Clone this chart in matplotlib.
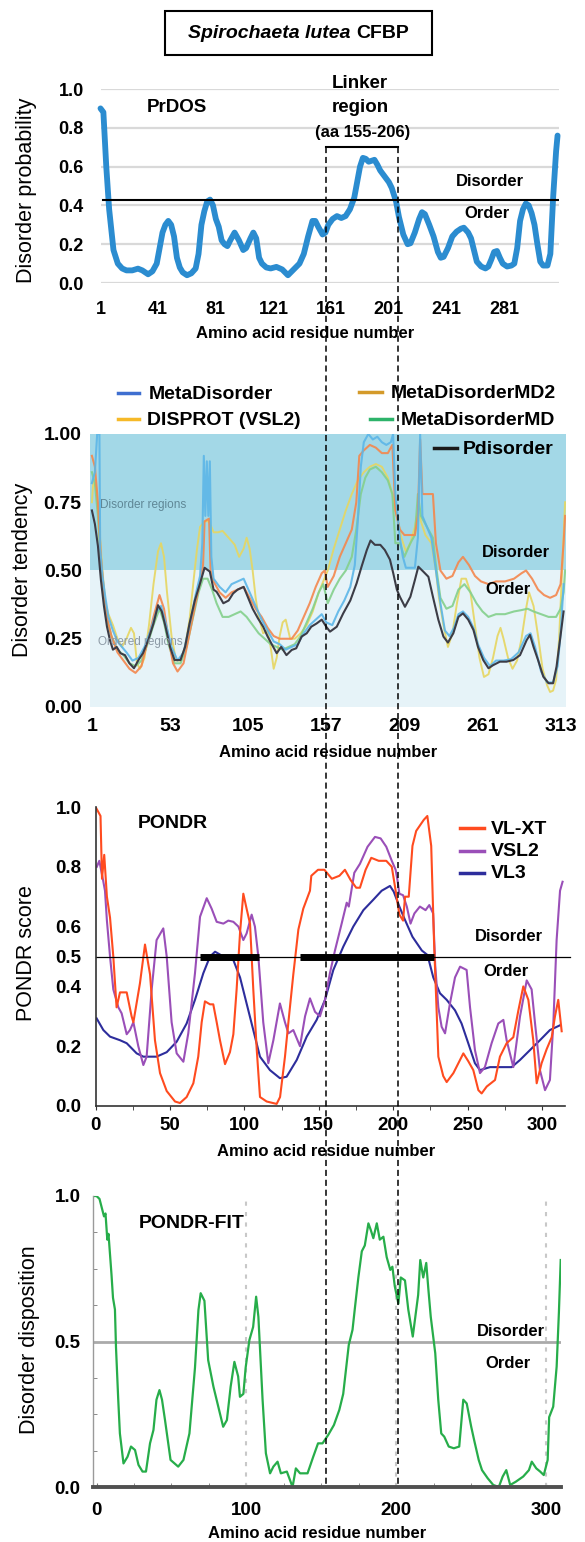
import numpy as np
import matplotlib
matplotlib.use('Agg')
import matplotlib.pyplot as plt
from matplotlib.lines import Line2D
from matplotlib.patches import Rectangle
from matplotlib.ticker import MultipleLocator

# ---------------------------------------------------------------
# data (residue, score)
# ---------------------------------------------------------------
# PrDOS
prdos_res = [1, 3, 5, 7, 10, 13, 16, 19, 23, 27, 30, 34, 37, 40, 42, 44, 46, 48, 50, 52,
             54, 56, 58, 61, 64, 67, 69, 71, 73, 75, 77, 79, 81, 83, 85, 87, 89, 91, 94, 97,
             100, 102, 105, 107, 109, 111, 113, 116, 119, 123, 127, 131, 135, 139, 142, 145,
             148, 150, 152, 155, 157, 159, 162, 165, 168, 171, 174, 177, 179, 181, 183, 185,
             187, 189, 191, 193, 195, 198, 201, 203, 206, 208, 211, 214, 216, 219, 222, 224,
             226, 229, 232, 235, 237, 239, 242, 245, 248, 251, 253, 256, 258, 260, 262, 265,
             268, 270, 272, 274, 276, 278, 280, 283, 286, 288, 290, 292, 294, 296, 298, 300,
             302, 304, 306, 308, 311, 313, 315, 317, 318]
prdos_val = [0.90, 0.88, 0.60, 0.38, 0.17, 0.10, 0.075, 0.065, 0.065, 0.074, 0.065, 0.045,
             0.06, 0.10, 0.18, 0.26, 0.30, 0.32, 0.30, 0.24, 0.13, 0.08, 0.055, 0.04, 0.05,
             0.075, 0.15, 0.30, 0.37, 0.42, 0.43, 0.40, 0.33, 0.29, 0.22, 0.20, 0.19, 0.22,
             0.26, 0.22, 0.17, 0.18, 0.23, 0.26, 0.23, 0.13, 0.10, 0.08, 0.075, 0.083, 0.07,
             0.04, 0.07, 0.10, 0.15, 0.24, 0.32, 0.32, 0.29, 0.25, 0.26, 0.30, 0.33, 0.345,
             0.335, 0.345, 0.38, 0.44, 0.52, 0.60, 0.645, 0.64, 0.625, 0.63, 0.635, 0.61,
             0.58, 0.55, 0.52, 0.49, 0.42, 0.34, 0.25, 0.20, 0.205, 0.26, 0.33, 0.365, 0.355,
             0.30, 0.24, 0.16, 0.13, 0.135, 0.18, 0.24, 0.265, 0.28, 0.285, 0.26, 0.23, 0.17,
             0.11, 0.085, 0.075, 0.085, 0.12, 0.16, 0.165, 0.13, 0.10, 0.085, 0.09, 0.10,
             0.18, 0.32, 0.38, 0.41, 0.40, 0.36, 0.30, 0.20, 0.11, 0.09, 0.09, 0.15, 0.45,
             0.68, 0.76]
prdos_ticks = [1, 41, 81, 121, 161, 201, 241, 281]
prdos_cut = 0.43

# MetaDisorder server panel
meta_ticks = [1, 53, 105, 157, 209, 261, 313]
md_res = [1, 3, 4.5, 6, 6.5, 8, 10, 12, 15, 18, 21, 24, 28, 32, 36, 40, 44, 47, 50, 54, 58,
          62, 66, 70, 73, 74.5, 75.5, 76.5, 77.5, 78.5, 79.5, 80.5, 82, 86, 90, 94, 98, 102,
          106, 110, 114, 118, 122, 126, 130, 134, 138, 142, 146, 150, 154, 157, 161, 165,
          169, 173, 176, 178, 180, 182, 185, 188, 191, 194, 197, 200, 201.5, 203, 206, 208,
          210, 214, 216, 218, 219.5, 221, 224, 227, 230, 233, 236, 239, 242, 245, 248, 251.5,
          255, 258, 262, 266, 270, 275, 280, 285, 290, 293, 296, 300, 304, 308, 311, 313, 315]
md_val = [0.82, 0.86, 1.0, 1.0, 0.58, 0.48, 0.40, 0.33, 0.28, 0.24, 0.22, 0.20, 0.17, 0.18,
          0.22, 0.28, 0.35, 0.37, 0.31, 0.22, 0.17, 0.20, 0.30, 0.41, 0.48, 0.60, 0.92, 0.70,
          0.90, 0.70, 0.90, 0.55, 0.47, 0.44, 0.42, 0.45, 0.46, 0.47, 0.42, 0.37, 0.32, 0.28,
          0.24, 0.23, 0.21, 0.22, 0.23, 0.27, 0.30, 0.32, 0.34, 0.31, 0.30, 0.35, 0.39, 0.44,
          0.52, 0.68, 0.88, 0.97, 1.0, 0.98, 0.99, 0.97, 0.96, 0.97, 1.0, 0.78, 0.62, 0.55,
          0.51, 0.51, 0.51, 0.62, 1.0, 0.70, 0.66, 0.62, 0.50, 0.38, 0.28, 0.26, 0.29, 0.34,
          0.35, 0.33, 0.29, 0.23, 0.18, 0.15, 0.17, 0.17, 0.175, 0.20, 0.26, 0.27, 0.22, 0.13,
          0.09, 0.09, 0.15, 0.27, 0.45]
md2_res = [1, 3, 5, 7, 9, 11, 14, 18, 22, 26, 30, 34, 38, 42, 46, 49, 52, 55, 58, 62, 66,
           70, 73, 75, 76, 79, 80, 82, 86, 90, 94, 98, 102, 106, 110, 114, 118, 122, 126, 130,
           134, 138, 142, 146, 150, 154, 156, 158, 162, 166, 170, 174, 177, 179, 182, 186,
           190, 194, 198, 201, 203, 206, 209, 213, 216, 218, 219.5, 221, 225, 228, 230, 233,
           237, 241, 245, 248, 252, 256, 260, 265, 270, 276, 282, 287, 290, 294, 298, 302,
           306, 310, 313, 315, 316]
md2_val = [0.92, 0.88, 0.75, 0.55, 0.42, 0.33, 0.26, 0.20, 0.17, 0.14, 0.125, 0.15, 0.24,
           0.33, 0.41, 0.36, 0.25, 0.16, 0.13, 0.16, 0.27, 0.38, 0.46, 0.52, 0.68, 0.69, 0.50,
           0.46, 0.42, 0.40, 0.42, 0.43, 0.44, 0.40, 0.36, 0.33, 0.29, 0.26, 0.25, 0.25, 0.25,
           0.28, 0.33, 0.38, 0.44, 0.49, 0.50, 0.44, 0.48, 0.55, 0.60, 0.65, 0.75, 0.92, 0.94,
           0.96, 0.95, 0.93, 0.93, 0.96, 0.72, 0.65, 0.63, 0.63, 0.63, 0.70, 0.98, 0.78, 0.78,
           0.78, 0.60, 0.50, 0.47, 0.48, 0.53, 0.55, 0.52, 0.48, 0.46, 0.45, 0.46, 0.46, 0.47,
           0.49, 0.50, 0.47, 0.43, 0.41, 0.40, 0.41, 0.45, 0.60, 0.70]
vsl2d_res = [1, 2, 4, 6, 8, 10, 12, 15, 18, 21, 24, 27, 29, 31, 33, 36, 39, 42, 45, 47, 49,
             51, 54, 57, 60, 63, 66, 69, 71, 73, 76, 79, 82, 85, 88, 92, 96, 99, 102, 104, 106,
             108, 110, 112, 115, 118, 120, 122, 124, 126, 128, 130, 133, 136, 140, 144, 148,
             152, 155, 158, 162, 166, 170, 174, 178, 182, 186, 190, 194, 198, 201, 204, 207,
             210, 213, 216, 218, 220, 223, 227, 230, 232, 235, 238, 241, 244, 247, 250, 253,
             256, 259, 262, 265, 268, 271, 273, 275, 278, 281, 284, 287, 290, 292, 295, 298,
             301, 304, 306, 308, 310, 312, 314, 316]
vsl2d_val = [0.75, 0.83, 0.80, 0.65, 0.50, 0.38, 0.34, 0.30, 0.25, 0.22, 0.25, 0.29, 0.27,
             0.16, 0.14, 0.18, 0.30, 0.45, 0.57, 0.60, 0.55, 0.42, 0.26, 0.17, 0.17, 0.22,
             0.32, 0.48, 0.58, 0.66, 0.68, 0.68, 0.64, 0.64, 0.645, 0.62, 0.595, 0.55, 0.58,
             0.62, 0.58, 0.50, 0.40, 0.33, 0.27, 0.28, 0.22, 0.14, 0.18, 0.26, 0.31, 0.32,
             0.25, 0.25, 0.27, 0.30, 0.35, 0.42, 0.46, 0.50, 0.58, 0.65, 0.72, 0.78, 0.83,
             0.86, 0.88, 0.89, 0.88, 0.84, 0.78, 0.70, 0.62, 0.57, 0.60, 0.66, 0.72, 0.68,
             0.63, 0.60, 0.50, 0.40, 0.30, 0.22, 0.27, 0.38, 0.47, 0.47, 0.42, 0.30, 0.18,
             0.11, 0.12, 0.18, 0.26, 0.29, 0.25, 0.18, 0.14, 0.17, 0.25, 0.36, 0.42, 0.37,
             0.26, 0.14, 0.08, 0.055, 0.06, 0.10, 0.25, 0.50, 0.75]
mdmd_res = [1, 3, 5, 7, 9, 11, 14, 18, 22, 26, 30, 34, 38, 42, 46, 49, 52, 56, 60, 64, 68,
            72, 75, 78, 81, 84, 88, 92, 96, 100, 104, 108, 112, 116, 120, 124, 128, 132, 136,
            140, 144, 148, 152, 155, 158, 162, 166, 170, 174, 177, 180, 183, 186, 190, 194,
            198, 201, 203, 206, 209, 213, 216, 218, 220, 224, 228, 230, 233, 237, 241, 245,
            249, 253, 257, 261, 265, 270, 276, 282, 287, 291, 295, 300, 305, 310, 313, 315, 316]
mdmd_val = [0.86, 0.82, 0.70, 0.52, 0.40, 0.32, 0.26, 0.21, 0.19, 0.16, 0.15, 0.17, 0.23,
            0.30, 0.36, 0.31, 0.23, 0.16, 0.16, 0.22, 0.32, 0.42, 0.47, 0.47, 0.43, 0.38,
            0.33, 0.33, 0.34, 0.35, 0.33, 0.30, 0.27, 0.25, 0.23, 0.22, 0.21, 0.22, 0.23,
            0.26, 0.31, 0.36, 0.42, 0.45, 0.38, 0.43, 0.47, 0.50, 0.55, 0.65, 0.78, 0.84,
            0.87, 0.88, 0.86, 0.83, 0.78, 0.60, 0.60, 0.55, 0.60, 0.63, 0.78, 0.70, 0.66,
            0.62, 0.52, 0.40, 0.36, 0.37, 0.43, 0.45, 0.42, 0.38, 0.35, 0.33, 0.34, 0.34,
            0.35, 0.355, 0.36, 0.35, 0.34, 0.33, 0.33, 0.36, 0.42, 0.50]
pdis_res = [1, 3, 5, 7, 9, 11, 13, 15, 17.5, 20, 23, 26, 29, 32, 35, 38.5, 42, 45, 47.5, 50,
            53, 56, 60, 63, 66, 69.5, 73, 76, 79.5, 82, 84, 86, 88.5, 92, 95, 98, 102, 104.7,
            108, 111.5, 115, 118, 121.7, 124, 127, 130.5, 134, 137, 140.6, 144, 147, 150.6,
            154, 157, 159.5, 164, 168.3, 173, 177.2, 180.5, 184, 186.5, 189.4, 193, 196,
            199.4, 201.6, 204, 206, 209.4, 213, 216, 218.3, 221.6, 225, 228, 231.6, 235, 238,
            241.6, 245, 248, 251.5, 255, 258, 261.5, 265, 268, 272.6, 277, 281.5, 286, 290.4,
            292.6, 295, 298, 301.5, 305, 308, 310.3, 312.6, 315]
pdis_val = [0.72, 0.67, 0.59, 0.465, 0.37, 0.295, 0.245, 0.21, 0.22, 0.197, 0.19, 0.16,
            0.142, 0.172, 0.197, 0.245, 0.306, 0.373, 0.35, 0.294, 0.22, 0.172, 0.172, 0.22,
            0.306, 0.39, 0.453, 0.51, 0.496, 0.43, 0.422, 0.404, 0.38, 0.39, 0.416, 0.43,
            0.44, 0.404, 0.36, 0.325, 0.294, 0.258, 0.22, 0.197, 0.22, 0.19, 0.209, 0.215,
            0.258, 0.27, 0.294, 0.306, 0.32, 0.294, 0.276, 0.294, 0.343, 0.39, 0.453, 0.514,
            0.575, 0.61, 0.594, 0.594, 0.575, 0.54, 0.49, 0.43, 0.404, 0.367, 0.404, 0.465,
            0.514, 0.496, 0.477, 0.404, 0.32, 0.258, 0.236, 0.27, 0.33, 0.343, 0.32, 0.282,
            0.22, 0.172, 0.142, 0.153, 0.166, 0.166, 0.172, 0.19, 0.245, 0.264, 0.22, 0.172,
            0.111, 0.087, 0.087, 0.148, 0.245, 0.35]

# PONDR
vlxt_res = [0, 3.3, 4.3, 5.8, 7.6, 9.7, 11.9, 14.1, 16.4, 20.9, 24.2, 25.4, 29.8, 33.2, 36.6,
            39.9, 43.3, 47.8, 53.4, 56.7, 61.2, 65.7, 69, 71.3, 73.5, 76.9, 79.1, 81.4, 83.6,
            87, 90.3, 92.6, 94.8, 97.1, 99.3, 101.5, 103.8, 106, 108.3, 110.5, 115, 121.7, 124,
            127.3, 129.6, 132.9, 136.3, 139.6, 144.1, 145, 149.5, 153.8, 158.8, 163.9, 167.6,
            171.4, 175.2, 177.7, 181.5, 185.3, 190.3, 195.4, 199.1, 201.7, 204.2, 206.7, 208,
            210.5, 213, 215.5, 220.6, 223, 225.6, 227.5, 229, 230.4, 233.7, 236, 240.5, 247.2,
            250.5, 253.9, 257.3, 259.5, 262.9, 268.5, 271.8, 276.3, 280.8, 284.2, 287.5, 290.9,
            294.2, 296.5, 299.8, 303.2, 306.6, 308.8, 311, 312.2, 313.3]
vlxt_val = [1.0, 0.97, 0.76, 0.84, 0.70, 0.63, 0.50, 0.33, 0.38, 0.38, 0.30, 0.28, 0.41, 0.54,
            0.44, 0.22, 0.11, 0.05, 0.015, 0.01, 0.03, 0.076, 0.165, 0.28, 0.35, 0.34, 0.34,
            0.28, 0.22, 0.14, 0.18, 0.24, 0.39, 0.58, 0.71, 0.66, 0.61, 0.39, 0.19, 0.03,
            0.015, 0.007, 0.03, 0.165, 0.28, 0.44, 0.59, 0.66, 0.72, 0.77, 0.79, 0.79, 0.76,
            0.77, 0.79, 0.756, 0.73, 0.73, 0.79, 0.83, 0.82, 0.82, 0.80, 0.72, 0.64, 0.62,
            0.70, 0.70, 0.87, 0.92, 0.957, 0.97, 0.87, 0.55, 0.35, 0.165, 0.10, 0.08, 0.11,
            0.176, 0.15, 0.12, 0.053, 0.042, 0.065, 0.087, 0.165, 0.21, 0.23, 0.32, 0.40,
            0.355, 0.22, 0.076, 0.143, 0.19, 0.23, 0.30, 0.355, 0.30, 0.25]
vsl2_res = [0.8, 2.5, 5, 6.3, 7.6, 9.7, 11.9, 15.3, 17.5, 20.9, 23.1, 25.4, 28.7, 32.1, 34.3,
            37.7, 41, 45.5, 47.8, 51.1, 54.5, 59, 62.3, 66.8, 70.2, 74.7, 78, 81.4, 85.9, 89.2,
            92.6, 96, 99.3, 101.5, 104.9, 107.1, 109.4, 112.7, 116.1, 119.5, 123.9, 127.3,
            129.6, 132.9, 137.4, 140.8, 144.1, 147.5, 150.8, 154.2, 157.5, 160.9, 165.4,
            168.8, 170.2, 173.9, 177.7, 182.8, 187.8, 191.6, 195.4, 199.1, 201.7, 202.9, 204.2,
            206.7, 209.2, 211.7, 214.3, 218, 221.8, 224.3, 226.9, 228.3, 230.4, 232.6, 234.9,
            238.2, 241.6, 245, 249.4, 251.7, 255, 258.4, 261.7, 266.2, 270.7, 274.1, 276.3,
            280.8, 285.3, 289.8, 293.1, 295.4, 298.7, 302.1, 305.4, 307.7, 309.9, 312.2, 313.9]
vsl2_val = [0.80, 0.82, 0.756, 0.72, 0.62, 0.50, 0.39, 0.33, 0.31, 0.24, 0.254, 0.28, 0.20,
            0.137, 0.165, 0.39, 0.555, 0.594, 0.50, 0.28, 0.176, 0.148, 0.243, 0.444, 0.633,
            0.695, 0.66, 0.616, 0.61, 0.62, 0.616, 0.60, 0.555, 0.577, 0.64, 0.60, 0.50, 0.28,
            0.143, 0.22, 0.343, 0.28, 0.243, 0.254, 0.20, 0.30, 0.36, 0.315, 0.30, 0.355,
            0.444, 0.52, 0.61, 0.68, 0.667, 0.78, 0.81, 0.867, 0.90, 0.895, 0.867, 0.82, 0.79,
            0.756, 0.71, 0.705, 0.667, 0.61, 0.644, 0.667, 0.655, 0.672, 0.644, 0.47, 0.33,
            0.265, 0.243, 0.343, 0.43, 0.466, 0.455, 0.33, 0.187, 0.11, 0.13, 0.21, 0.276,
            0.288, 0.22, 0.13, 0.30, 0.42, 0.39, 0.276, 0.12, 0.053, 0.087, 0.276, 0.555, 0.72,
            0.75]
vl3_res = [0.7, 5.2, 9.7, 16.4, 20.9, 27.6, 32.1, 41, 47.8, 54.5, 61.2, 66.8, 72.4, 76.9,
           80.3, 85.9, 92.6, 97.1, 101.5, 106, 110.5, 117.2, 123.9, 128.4, 135.2, 141.9,
           148.6, 154.2, 159.8, 166.5, 173.2, 180, 186.7, 192.3, 197.9, 200.4, 204.2, 208,
           213, 219.3, 223.1, 227, 231.5, 236, 241.6, 246, 250.5, 255, 258.4, 265.1, 271.8,
           279.7, 285.3, 292, 298.7, 305.4, 312.2]
vl3_val = [0.293, 0.254, 0.232, 0.22, 0.21, 0.176, 0.165, 0.165, 0.18, 0.215, 0.276, 0.355,
           0.444, 0.50, 0.516, 0.50, 0.488, 0.43, 0.343, 0.254, 0.165, 0.12, 0.093, 0.098,
           0.154, 0.232, 0.288, 0.355, 0.455, 0.533, 0.60, 0.655, 0.69, 0.72, 0.736, 0.717,
           0.667, 0.622, 0.566, 0.52, 0.505, 0.43, 0.377, 0.355, 0.32, 0.276, 0.21, 0.143,
           0.12, 0.13, 0.13, 0.13, 0.154, 0.187, 0.22, 0.254, 0.27]
pondr_bar_start = [70, 137.5]
pondr_bar_end = [110, 227.5]

# PONDR-FIT
fit_res = [-2, 0, 2, 3.5, 5, 6, 7.2, 8, 9, 10, 11, 12.3, 13, 14.5, 15.6, 18, 20.7, 23, 25.7,
           28, 30.7, 33, 35.7, 38, 40, 42, 43.7, 45.7, 49.4, 54.5, 58, 62, 65.7, 68, 69.5, 72,
           74.5, 78, 80.7, 84.5, 87, 89.5, 92, 94.5, 95.7, 98, 99.5, 102, 104.5, 106.5, 108,
           110.8, 113, 115.8, 118, 120.8, 123, 127, 130.8, 133, 135.8, 140.8, 144.6, 147.8,
           150.8, 154.6, 158.4, 162, 164.6, 168.3, 170.8, 172.5, 174.7, 177, 179, 181.4, 183,
           184.7, 187, 189, 191.4, 193.6, 196, 197.4, 199, 201.4, 203, 205.8, 208, 211, 214.6,
           216, 218, 220, 221.4, 223, 226, 228, 230, 232, 235, 238.4, 242, 244.7, 247, 250,
           252, 255, 257.2, 261, 264.7, 268.4, 271, 273.4, 276, 279.7, 284.7, 288.5, 290.4,
           293.4, 296, 298.4, 301, 302, 304.7, 307, 308.5, 309.7]
fit_val = [1.0, 1.0, 0.99, 0.96, 0.93, 0.94, 0.85, 0.87, 0.80, 0.73, 0.65, 0.61, 0.48, 0.30,
           0.184, 0.081, 0.104, 0.139, 0.127, 0.076, 0.053, 0.053, 0.15, 0.196, 0.30, 0.333,
           0.30, 0.23, 0.093, 0.07, 0.093, 0.184, 0.41, 0.608, 0.666, 0.64, 0.436, 0.345,
           0.287, 0.207, 0.23, 0.345, 0.43, 0.38, 0.31, 0.32, 0.41, 0.505, 0.55, 0.654, 0.585,
           0.30, 0.116, 0.047, 0.07, 0.087, 0.047, 0.053, 0.0, 0.064, 0.047, 0.047, 0.104,
           0.15, 0.15, 0.179, 0.213, 0.265, 0.32, 0.488, 0.54, 0.62, 0.72, 0.81, 0.83, 0.906,
           0.883, 0.855, 0.906, 0.85, 0.86, 0.79, 0.746, 0.757, 0.69, 0.63, 0.72, 0.71, 0.61,
           0.517, 0.66, 0.78, 0.72, 0.77, 0.68, 0.585, 0.46, 0.30, 0.184, 0.173, 0.139, 0.133,
           0.139, 0.30, 0.287, 0.207, 0.16, 0.093, 0.058, 0.03, 0.007, 0.0, 0.036, 0.058,
           0.007, 0.018, 0.036, 0.058, 0.087, 0.064, 0.053, 0.041, 0.093, 0.24, 0.276, 0.414,
           0.60, 0.78]

# ---------------------------------------------------------------
# layout helpers (pixel positions of the 585x1542 picture)
# ---------------------------------------------------------------
W, H = 585, 1542
LINKER_PX = [326, 398]


def fx(x):
    return x / W


def fy(y):
    return 1 - y / H


def rect(l, r, t, b):
    return [l / W, 1 - b / H, (r - l) / W, (b - t) / H]


def ftext(x, y, s, size=12, ha='center', **kw):
    fig.text(fx(x), fy(y), s, fontsize=size, ha=ha, va='center', **kw)


def fline(xs, ys, **kw):
    fig.add_artist(Line2D([fx(v) for v in xs], [fy(v) for v in ys],
                          transform=fig.transFigure, **kw))


plt.rcParams['font.family'] = ['Liberation Sans', 'DejaVu Sans']
plt.rcParams['font.weight'] = 'bold'
plt.rcParams['axes.labelweight'] = 'bold'

fig = plt.figure(figsize=(W / 100, H / 100), dpi=100)

# title box
fig.add_artist(Rectangle((fx(165), fy(55)), (432 - 165) / W, 44 / H, fill=False,
                         lw=1.5, ec='black', transform=fig.transFigure))
ftext(350.5, 33, 'Spirochaeta lutea', size=14, ha='right', style='italic')
ftext(356, 33, 'CFBP', size=14, ha='left')

# ---------------- panel 1: PrDOS ----------------
ax1 = fig.add_axes(rect(100.5, 559, 89, 283))
ax1.set_xlim(1, 319)
ax1.set_ylim(0, 1)
for s in ax1.spines.values():
    s.set_visible(False)
ax1.set_yticks(np.arange(0, 1.01, 0.2))
ax1.yaxis.set_major_formatter('{x:.1f}')
ax1.set_xticks(prdos_ticks)
ax1.grid(axis='y', color='#d9d9d9', lw=1.6)
ax1.set_axisbelow(True)
ax1.tick_params(axis='y', length=0, labelsize=13, pad=12)
ax1.tick_params(axis='x', length=0, labelsize=13, pad=13)
ax1.plot(prdos_res, prdos_val, color='#2b8cd0', lw=4.2, solid_capstyle='round',
         solid_joinstyle='round', clip_on=False)
ax1.axhline(prdos_cut, xmin=0.006, xmax=1.0, color='black', lw=1.5)
ax1.set_ylabel('Disorder probability', fontsize=15.5, fontweight='normal', va='center')
ax1.yaxis.set_label_coords(fx(27), fy(190), transform=fig.transFigure)
ax1.set_xlabel('Amino acid residue number', fontsize=12, va='center')
ax1.xaxis.set_label_coords(fx(305), fy(333), transform=fig.transFigure)
ftext(177, 107, 'PrDOS', size=13.5)
ftext(360, 83, 'Linker', size=13.5)
ftext(360, 107, 'region', size=13.5)
ftext(363, 132, '(aa 155-206)', size=12)
ftext(490, 181, 'Disorder', size=12)
ftext(487, 213, 'Order', size=12)

# ---------------- panel 2: MetaDisorder ----------------
ax2 = fig.add_axes(rect(90, 566, 434, 707))
ax2.axhspan(0.5, 1.0, color='#a3d8e7', lw=0, zorder=0)
ax2.axhspan(0.0, 0.5, color='#e6f3f8', lw=0, zorder=0)
ax2.plot(vsl2d_res, vsl2d_val, color='#e6d660', lw=1.4, alpha=0.9)
ax2.plot(mdmd_res, mdmd_val, color='#84d08c', lw=1.5, alpha=0.9)
ax2.plot(md2_res, md2_val, color='#f4874d', lw=1.5, alpha=0.9)
ax2.plot(md_res, md_val, color='#5cb6e8', lw=1.5, alpha=0.9)
ax2.plot(pdis_res, pdis_val, color='#3c3c46', lw=1.5)
ax2.set_xlim(-0.27, 316.6)
ax2.set_ylim(0, 1)
for s in ax2.spines.values():
    s.set_visible(False)
ax2.set_xticks(meta_ticks)
ax2.set_yticks([0, 0.25, 0.5, 0.75, 1.0])
ax2.yaxis.set_major_formatter('{x:.2f}')
ax2.tick_params(axis='y', length=0, labelsize=14, pad=6)
ax2.tick_params(axis='x', length=0, labelsize=14, pad=8)
ax2.set_ylabel('Disorder tendency', fontsize=15.5, fontweight='normal', va='center')
ax2.yaxis.set_label_coords(fx(23), fy(570), transform=fig.transFigure)
ax2.set_xlabel('Amino acid residue number', fontsize=12, va='center')
ax2.xaxis.set_label_coords(fx(328), fy(752), transform=fig.transFigure)
ftext(100, 505, 'Disorder regions', size=8.5, ha='left', fontweight='normal', color='#5f8796')
ftext(98, 642, 'Ordered regions', size=8.5, ha='left', fontweight='normal', color='#8d9aa6')
ftext(516, 552, 'Disorder', size=12)
ftext(508, 589, 'Order', size=12)
# legend above the panel
meta_legend = [('MetaDisorder', '#3f6fd0', 118, 139, 393, 149),
               ('DISPROT (VSL2)', '#f6b928', 118, 139, 419, 147),
               ('MetaDisorderMD2', '#d49a2a', 359, 382, 392, 391),
               ('MetaDisorderMD', '#2db36a', 370, 392, 419, 401),
               ('Pdisorder', '#1a1a1a', 434, 457, 448, 463)]
for name, col, x0, x1, yl, xt in meta_legend:
    fline([x0, x1], [yl, yl], color=col, lw=2.5)
    ftext(xt, yl + 1.5, name, size=14, ha='left')

# ---------------- panel 3: PONDR ----------------
ax3 = fig.add_axes(rect(95.6, 564.5, 807, 1106))
ax3.plot(vl3_res, vl3_val, color='#2d2d9c', lw=1.5)
ax3.plot(vsl2_res, vsl2_val, color='#9a4fb8', lw=1.5)
ax3.plot(vlxt_res, vlxt_val, color='#ff4b1f', lw=1.5)
ax3.axhline(0.5, xmin=0, xmax=1.012, color='black', lw=0.9, clip_on=False)
ax3.hlines([0.5] * len(pondr_bar_start), pondr_bar_start, pondr_bar_end,
           color='black', lw=5)
ax3.set_xlim(0, 315.2)
ax3.set_ylim(0, 1)
ax3.spines[['top', 'right']].set_visible(False)
for side in ['left', 'bottom']:
    ax3.spines[side].set_color('#333333')
    ax3.spines[side].set_linewidth(1.2)
ax3.set_yticks([0, 0.2, 0.4, 0.5, 0.6, 0.8, 1.0])
ax3.yaxis.set_major_formatter('{x:.1f}')
ax3.xaxis.set_major_locator(MultipleLocator(50))
ax3.xaxis.set_minor_locator(MultipleLocator(25))
ax3.tick_params(axis='x', which='both', direction='out', length=3, color='#333333',
                labelsize=13.5, pad=5)
ax3.tick_params(axis='y', length=0, labelsize=13.5, pad=10)
ax3.set_ylabel('PONDR score', fontsize=15.5, fontweight='normal', va='center')
ax3.yaxis.set_label_coords(fx(27), fy(953), transform=fig.transFigure)
ax3.set_xlabel('Amino acid residue number', fontsize=12, va='center')
ax3.xaxis.set_label_coords(fx(326), fy(1151), transform=fig.transFigure)
ftext(173, 823, 'PONDR', size=14)
ftext(509, 937, 'Disorder', size=12)
ftext(506, 971, 'Order', size=12)
for name, col, yl in [('VL-XT', '#ff4b1f', 828), ('VSL2', '#9a4fb8', 851),
                      ('VL3', '#2d2d9c', 873)]:
    fline([460, 484], [yl, yl], color=col, lw=2.5)
    ftext(491, yl + 1, name, size=14, ha='left')

# ---------------- panel 4: PONDR-FIT ----------------
ax4 = fig.add_axes(rect(93, 561, 1196, 1487))
ax4.vlines([100, 200, 300], 0, 1, color='#c8c8c8', lw=1.5, linestyles=(0, (2, 3)))
ax4.axhline(0.5, color='#aaaaaa', lw=2)
ax4.plot(fit_res, fit_val, color='#27ad4a', lw=1.6)
ax4.set_xlim(-2.34, 309.9)
ax4.set_ylim(0, 1)
ax4.spines[['top', 'right']].set_visible(False)
ax4.spines['bottom'].set_color('#505050')
ax4.spines['bottom'].set_linewidth(2.8)
ax4.spines['left'].set_color('#9a9a9a')
ax4.spines['left'].set_linewidth(1)
ax4.set_xticks([0, 100, 200, 300])
ax4.xaxis.set_minor_locator(MultipleLocator(25))
ax4.set_yticks([0, 0.5, 1.0])
ax4.yaxis.set_minor_locator(MultipleLocator(0.125))
ax4.yaxis.set_major_formatter('{x:.1f}')
ax4.tick_params(axis='both', which='both', direction='in', length=3, color='#777777')
ax4.tick_params(axis='x', labelsize=13.5, pad=11)
ax4.tick_params(axis='y', labelsize=13.5, pad=9)
ax4.set_ylabel('Disorder disposition', fontsize=15.5, fontweight='normal', va='center')
ax4.yaxis.set_label_coords(fx(30), fy(1340), transform=fig.transFigure)
ax4.set_xlabel('Amino acid residue number', fontsize=12, va='center')
ax4.xaxis.set_label_coords(fx(317), fy(1533), transform=fig.transFigure)
ftext(192, 1223, 'PONDR-FIT', size=14)
ftext(511, 1332, 'Disorder', size=12)
ftext(508, 1363, 'Order', size=12)

# linker bracket and dashed guides through all panels
fline(LINKER_PX, [147, 147], color='black', lw=1.5, zorder=6)
for xp in LINKER_PX:
    fline([xp, xp], [147, 1487], color='black', lw=1.1, ls=(0, (4, 2.5)), zorder=6)

fig.savefig('out.png', dpi=100)
